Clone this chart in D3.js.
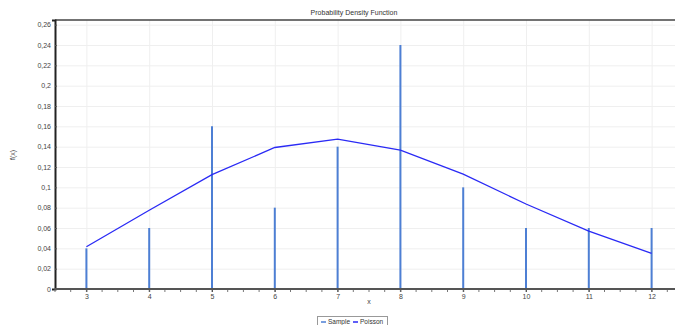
<!DOCTYPE html>
<html>
<head>
<meta charset="utf-8">
<script src="https://cdn.jsdelivr.net/npm/d3@7"></script>
<style>
  body { margin: 0; background: #fff; }
  text { font-family: "Liberation Sans", Arial, sans-serif; }
</style>
</head>
<body>
<svg id="chart" width="675" height="325"></svg>
<script>
// --- Data ---
const xs = [3, 4, 5, 6, 7, 8, 9, 10, 11, 12];
const sample = [0.04, 0.06, 0.16, 0.08, 0.14, 0.24, 0.10, 0.06, 0.06, 0.06];
const poisson = [0.0415, 0.0775, 0.1125, 0.1392, 0.1475, 0.1367, 0.1130, 0.0836, 0.0570, 0.0351];
const yTicks = [0, 0.02, 0.04, 0.06, 0.08, 0.1, 0.12, 0.14, 0.16, 0.18, 0.2, 0.22, 0.24, 0.26];

const svg = d3.select("#chart");
const plotL = 55, plotR = 683, plotT = 20, plotB = 289;

const x = d3.scaleLinear().domain([2.5, 12.5]).range([plotL, plotR]);
const y = d3.scaleLinear().domain([0, 0.2646]).range([plotB, plotT]);
const fmt = (d) => d3.format("~f")(+d.toFixed(2)).replace(".", ",");

// grid
svg.append("g")
  .selectAll("line")
  .data(yTicks)
  .join("line")
  .attr("x1", plotL).attr("x2", plotR)
  .attr("y1", (d) => y(d) + 0.5).attr("y2", (d) => y(d) + 0.5)
  .attr("stroke", "#efefef");
svg.append("g")
  .selectAll("line")
  .data(xs)
  .join("line")
  .attr("x1", (d) => x(d) + 0.5).attr("x2", (d) => x(d) + 0.5)
  .attr("y1", plotT).attr("y2", plotB)
  .attr("stroke", "#efefef");

// top border
svg.append("line")
  .attr("x1", plotL).attr("x2", plotR)
  .attr("y1", plotT).attr("y2", plotT)
  .attr("stroke", "#444").attr("stroke-width", 1.5);

// sample bars
svg.append("g")
  .selectAll("line")
  .data(xs)
  .join("line")
  .attr("x1", (d) => x(d)).attr("x2", (d) => x(d))
  .attr("y1", y(0))
  .attr("y2", (d, i) => y(sample[i]))
  .attr("stroke", "#4d7fd4")
  .attr("stroke-width", 2);

// poisson line
svg.append("path")
  .datum(xs)
  .attr("fill", "none")
  .attr("stroke", "#2a2af5")
  .attr("stroke-width", 1.3)
  .attr("d", d3.line().x((d) => x(d)).y((d, i) => y(poisson[i])));

// y axis
const yAxis = svg.append("g")
  .attr("transform", `translate(${plotL},0)`)
  .call(d3.axisLeft(y).tickValues(yTicks).tickFormat(fmt).tickSize(3).tickPadding(1));
yAxis.select(".domain").attr("stroke", "#222").attr("stroke-width", 2);
yAxis.selectAll(".tick line").attr("stroke", "#555").attr("x2", 2);
yAxis.selectAll("text").attr("font-size", 7).attr("fill", "#444");

// x axis
const minor = d3.range(2.5, 12.51, 0.25);
svg.append("g")
  .selectAll("line")
  .data(minor)
  .join("line")
  .attr("x1", (d) => x(d)).attr("x2", (d) => x(d))
  .attr("y1", plotB - 1).attr("y2", plotB + 3)
  .attr("stroke", "#777");
svg.append("line")
  .attr("x1", plotL).attr("x2", plotR)
  .attr("y1", plotB).attr("y2", plotB)
  .attr("stroke", "#555").attr("stroke-width", 2);
const xAxis = svg.append("g")
  .attr("transform", `translate(0,${plotB})`)
  .call(d3.axisBottom(x).tickValues(xs).tickFormat(d3.format("d")).tickSize(3).tickPadding(2));
xAxis.select(".domain").remove();
xAxis.selectAll(".tick line").attr("stroke", "#555");
xAxis.selectAll("text").attr("font-size", 7).attr("fill", "#444");

// titles
svg.append("text")
  .attr("x", 354).attr("y", 15)
  .attr("text-anchor", "middle")
  .attr("font-size", 7)
  .attr("fill", "#333")
  .text("Probability Density Function");
svg.append("text")
  .attr("x", 369).attr("y", 304)
  .attr("text-anchor", "middle")
  .attr("font-size", 7)
  .attr("fill", "#444")
  .text("x");
svg.append("text")
  .attr("transform", "translate(15,155) rotate(-90)")
  .attr("text-anchor", "middle")
  .attr("font-size", 7)
  .attr("fill", "#444")
  .text("f(x)");

// legend
const lg = svg.append("g").attr("transform", "translate(317,316)");
lg.append("rect")
  .attr("x", 0.5).attr("y", 0.5)
  .attr("width", 70).attr("height", 10)
  .attr("fill", "#fff").attr("stroke", "#999");
const items = [["Sample", "#4d7fd4", 4], ["Poisson", "#2a2af5", 36]];
items.forEach(([name, col, off]) => {
  lg.append("line")
    .attr("x1", off).attr("x2", off + 5)
    .attr("y1", 6).attr("y2", 6)
    .attr("stroke", col).attr("stroke-width", 1.5);
  lg.append("text")
    .attr("x", off + 7).attr("y", 8.3)
    .attr("font-size", 6.5)
    .attr("fill", "#333")
    .text(name);
});
</script>
</body>
</html>
